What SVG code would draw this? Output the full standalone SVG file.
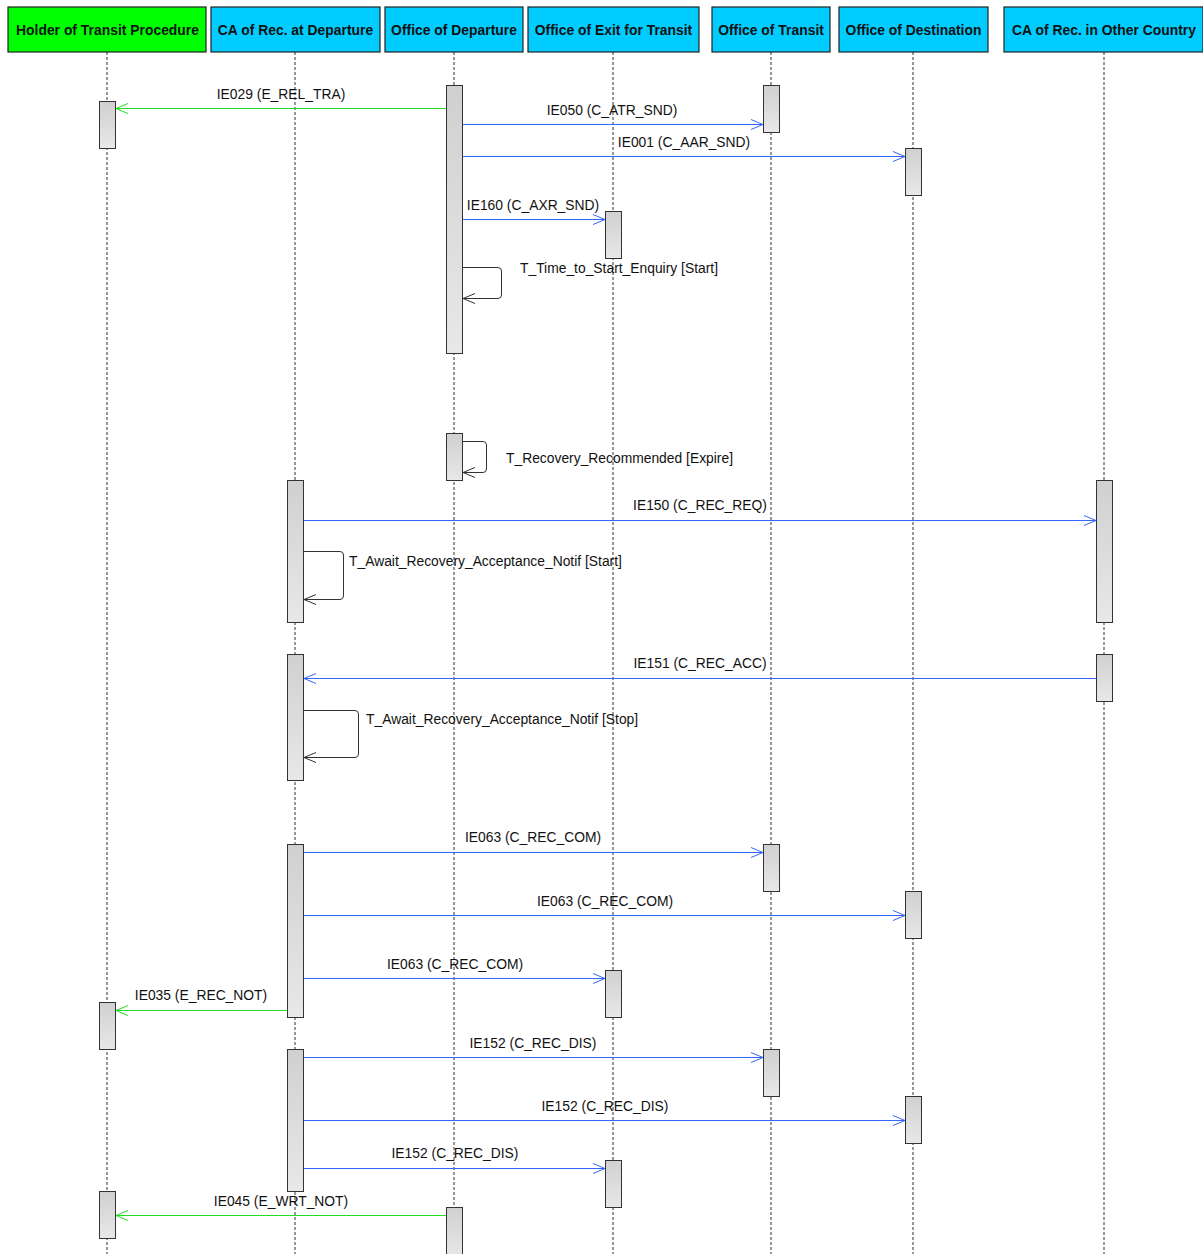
<svg xmlns="http://www.w3.org/2000/svg" width="1203" height="1254" viewBox="0 0 1203 1254">
<defs>
<linearGradient id="act" x1="0" y1="0" x2="0" y2="1">
<stop offset="0" stop-color="#d0d0d0"/>
<stop offset="1" stop-color="#e8e8e8"/>
</linearGradient>
<marker id="ab" markerWidth="14" markerHeight="12" refX="13" refY="6" orient="auto" markerUnits="userSpaceOnUse">
<path d="M1,1 L13,6 L1,11" fill="none" stroke="#3366ff" stroke-width="1"/>
</marker>
<marker id="ag" markerWidth="14" markerHeight="12" refX="13" refY="6" orient="auto" markerUnits="userSpaceOnUse">
<path d="M1,1 L13,6 L1,11" fill="none" stroke="#22dd22" stroke-width="1"/>
</marker>
<marker id="ak" markerWidth="14" markerHeight="12" refX="13" refY="6" orient="auto" markerUnits="userSpaceOnUse">
<path d="M1,1 L13,6 L1,11" fill="none" stroke="#333" stroke-width="1"/>
</marker>
</defs>
<style>
.hdr{stroke:#222;stroke-width:1.2}
.htx{font-family:"Liberation Sans",Arial,sans-serif;font-weight:bold;font-size:13.9px;fill:#111;text-anchor:middle}
.life{stroke:#333;stroke-width:1;stroke-dasharray:3,2;fill:none}
.bar{fill:url(#act);stroke:#333;stroke-width:1}
.mb{stroke:#3366ff;stroke-width:1;fill:none;marker-end:url(#ab)}
.mg{stroke:#22dd22;stroke-width:1;fill:none;marker-end:url(#ag)}
.self{stroke:#333;stroke-width:1;fill:none;marker-end:url(#ak)}
.lbl{font-family:"Liberation Sans",Arial,sans-serif;font-size:13.85px;fill:#111}
.c{text-anchor:middle}
</style>
<rect width="1203" height="1254" fill="#fff"/>

<g id="lifelines">
<line class="life" x1="107" y1="52" x2="107" y2="1254"/>
<line class="life" x1="295" y1="52" x2="295" y2="1254"/>
<line class="life" x1="454" y1="52" x2="454" y2="1254"/>
<line class="life" x1="613" y1="52" x2="613" y2="1254"/>
<line class="life" x1="771" y1="52" x2="771" y2="1254"/>
<line class="life" x1="913" y1="52" x2="913" y2="1254"/>
<line class="life" x1="1104" y1="52" x2="1104" y2="1254"/>
</g>

<g id="holder">
<rect class="hdr" x="8" y="7" width="198" height="45" fill="#00ff00"/>
<text class="htx" x="107.5" y="35">Holder of Transit Procedure</text>
<rect class="bar" x="99.5" y="101.5" width="16" height="47"/>
<rect class="bar" x="99.5" y="1002.5" width="16" height="47"/>
<rect class="bar" x="99.5" y="1191.5" width="16" height="47"/>
</g>

<g id="ca-dep">
<rect class="hdr" x="211" y="7" width="169" height="45" fill="#00ccff"/>
<text class="htx" x="295.5" y="35">CA of Rec. at Departure</text>
<rect class="bar" x="287.5" y="480.5" width="16" height="142"/>
<rect class="bar" x="287.5" y="654.5" width="16" height="126"/>
<rect class="bar" x="287.5" y="844.5" width="16" height="173"/>
<rect class="bar" x="287.5" y="1049.5" width="16" height="142"/>
</g>

<g id="office-dep">
<rect class="hdr" x="385" y="7" width="138" height="45" fill="#00ccff"/>
<text class="htx" x="454" y="35">Office of Departure</text>
<rect class="bar" x="446.5" y="85.5" width="16" height="268"/>
<rect class="bar" x="446.5" y="433.5" width="16" height="47"/>
<rect class="bar" x="446.5" y="1207.5" width="16" height="50"/>
</g>

<g id="office-exit">
<rect class="hdr" x="528" y="7" width="171" height="45" fill="#00ccff"/>
<text class="htx" x="613.5" y="35">Office of Exit for Transit</text>
<rect class="bar" x="605.5" y="211.5" width="16" height="47"/>
<rect class="bar" x="605.5" y="970.5" width="16" height="47"/>
<rect class="bar" x="605.5" y="1160.5" width="16" height="47"/>
</g>

<g id="office-transit">
<rect class="hdr" x="712" y="7" width="118" height="45" fill="#00ccff"/>
<text class="htx" x="771" y="35">Office of Transit</text>
<rect class="bar" x="763.5" y="85.5" width="16" height="47"/>
<rect class="bar" x="763.5" y="844.5" width="16" height="47"/>
<rect class="bar" x="763.5" y="1049.5" width="16" height="47"/>
</g>

<g id="office-dest">
<rect class="hdr" x="839" y="7" width="149" height="45" fill="#00ccff"/>
<text class="htx" x="913.5" y="35">Office of Destination</text>
<rect class="bar" x="905.5" y="148.5" width="16" height="47"/>
<rect class="bar" x="905.5" y="891.5" width="16" height="47"/>
<rect class="bar" x="905.5" y="1096.5" width="16" height="47"/>
</g>

<g id="ca-other">
<rect class="hdr" x="1004" y="7" width="199" height="45" fill="#00ccff"/>
<text class="htx" x="1104" y="35">CA of Rec. in Other Country</text>
<rect class="bar" x="1096.5" y="480.5" width="16" height="142"/>
<rect class="bar" x="1096.5" y="654.5" width="16" height="47"/>
</g>

<g id="connectors">
<line class="mg" x1="446" y1="108.5" x2="116" y2="108.5"/>
<text class="lbl c" x="281" y="99">IE029 (E_REL_TRA)</text>
<line class="mb" x1="463" y1="124.5" x2="763" y2="124.5"/>
<text class="lbl c" x="612" y="115">IE050 (C_ATR_SND)</text>
<line class="mb" x1="463" y1="156.5" x2="905" y2="156.5"/>
<text class="lbl c" x="684" y="147">IE001 (C_AAR_SND)</text>
<line class="mb" x1="463" y1="219.5" x2="605" y2="219.5"/>
<text class="lbl c" x="533" y="210">IE160 (C_AXR_SND)</text>
<path class="self" d="M463,267.5 H498 Q501.5,267.5 501.5,271 V295 Q501.5,298.5 498,298.5 H463"/>
<text class="lbl" x="520" y="273">T_Time_to_Start_Enquiry [Start]</text>
<path class="self" d="M463,441.5 H483 Q486.5,441.5 486.5,445 V469 Q486.5,472.5 483,472.5 H463"/>
<text class="lbl" x="506" y="463">T_Recovery_Recommended [Expire]</text>
<line class="mb" x1="304" y1="520.5" x2="1096" y2="520.5"/>
<text class="lbl c" x="700" y="510">IE150 (C_REC_REQ)</text>
<path class="self" d="M304,551.5 H340 Q343.5,551.5 343.5,555 V596 Q343.5,599.5 340,599.5 H304"/>
<text class="lbl" x="349" y="566">T_Await_Recovery_Acceptance_Notif [Start]</text>
<line class="mb" x1="1096" y1="678.5" x2="304" y2="678.5"/>
<text class="lbl c" x="700" y="668">IE151 (C_REC_ACC)</text>
<path class="self" d="M304,710.5 H355 Q358.5,710.5 358.5,714 V754 Q358.5,757.5 355,757.5 H304"/>
<text class="lbl" x="366" y="724">T_Await_Recovery_Acceptance_Notif [Stop]</text>
<line class="mb" x1="304" y1="852.5" x2="763" y2="852.5"/>
<text class="lbl c" x="533" y="842">IE063 (C_REC_COM)</text>
<line class="mb" x1="304" y1="915.5" x2="905" y2="915.5"/>
<text class="lbl c" x="605" y="906">IE063 (C_REC_COM)</text>
<line class="mb" x1="304" y1="978.5" x2="605" y2="978.5"/>
<text class="lbl c" x="455" y="969">IE063 (C_REC_COM)</text>
<line class="mg" x1="287" y1="1010.5" x2="116" y2="1010.5"/>
<text class="lbl c" x="201" y="1000">IE035 (E_REC_NOT)</text>
<line class="mb" x1="304" y1="1057.5" x2="763" y2="1057.5"/>
<text class="lbl c" x="533" y="1048">IE152 (C_REC_DIS)</text>
<line class="mb" x1="304" y1="1120.5" x2="905" y2="1120.5"/>
<text class="lbl c" x="605" y="1111">IE152 (C_REC_DIS)</text>
<line class="mb" x1="304" y1="1168.5" x2="605" y2="1168.5"/>
<text class="lbl c" x="455" y="1158">IE152 (C_REC_DIS)</text>
<line class="mg" x1="446" y1="1215.5" x2="116" y2="1215.5"/>
<text class="lbl c" x="281" y="1206">IE045 (E_WRT_NOT)</text>
</g>
</svg>
